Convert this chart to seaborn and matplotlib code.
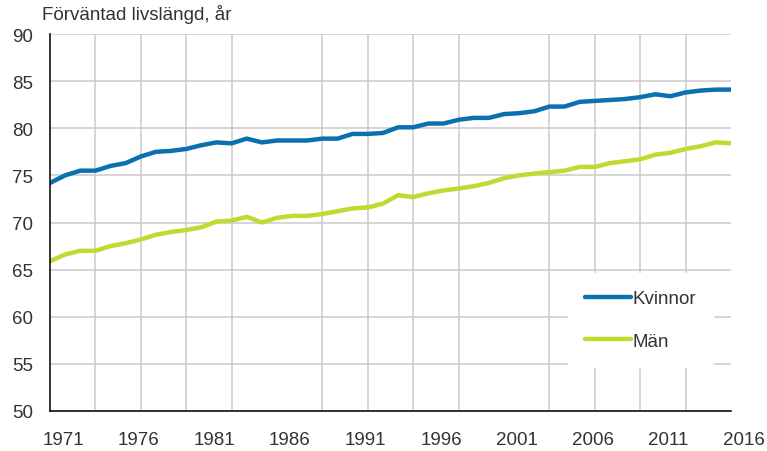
import matplotlib
matplotlib.use("Agg")
import matplotlib.pyplot as plt
import matplotlib.transforms as mtransforms
from matplotlib.lines import Line2D
import seaborn as sns
import pandas as pd
import numpy as np

years = list(range(1971, 2017))
kvinnor = [74.2, 75.0, 75.5, 75.5, 76.0, 76.3, 77.0, 77.5, 77.6, 77.8, 78.2,
           78.5, 78.4, 78.9, 78.5, 78.7, 78.7, 78.7, 78.9, 78.9, 79.4,
           79.4, 79.5, 80.1, 80.1, 80.5, 80.5, 80.9, 81.1, 81.1, 81.5,
           81.6, 81.8, 82.3, 82.3, 82.8, 82.9, 83.0, 83.1, 83.3, 83.6,
           83.4, 83.8, 84.0, 84.1, 84.1]
man = [65.9, 66.6, 67.0, 67.0, 67.5, 67.8, 68.2, 68.7, 69.0, 69.2, 69.5,
       70.1, 70.2, 70.6, 70.0, 70.5, 70.7, 70.7, 70.9, 71.2, 71.5,
       71.6, 72.0, 72.9, 72.7, 73.1, 73.4, 73.6, 73.85, 74.2, 74.7,
       75.0, 75.2, 75.35, 75.5, 75.9, 75.9, 76.3, 76.5, 76.7, 77.2,
       77.4, 77.8, 78.1, 78.5, 78.4]
series_names = ["Kvinnor", "Män"]
colors = ["#0a70b0", "#c4d831"]
title = "Förväntad livslängd, år"
y_ticks = [50, 55, 60, 65, 70, 75, 80, 85, 90]
x_label_years = list(range(1971, 2017, 5))
x_grid_years = list(range(1971, 2017, 3))

df = pd.DataFrame({
    "År": years * 2,
    "Värde": kvinnor + man,
    "Serie": [series_names[0]] * len(years) + [series_names[1]] * len(years),
})

sns.set_style("white")
plt.rcParams["font.family"] = ["Liberation Sans", "DejaVu Sans"]
text_color = "#333333"
fs = 13.5

fig = plt.figure(figsize=(7.67, 4.52), dpi=100)
ax = fig.add_axes([50 / 767, 1 - 412 / 452, 681 / 767, 377 / 452])

sns.lineplot(data=df, x="År", y="Värde", hue="Serie", palette=colors,
             linewidth=3.2, ax=ax, legend=False, zorder=3)

ax.set_xlim(1971, 2016)
ax.set_ylim(50, 90)
ax.set_xlabel("")
ax.set_ylabel("")

ax.set_yticks(y_ticks)
ax.set_yticklabels([str(v) for v in y_ticks])
ax.set_xticks(x_label_years)
ax.set_xticklabels([str(v) for v in x_label_years])
ax.set_xticks(x_grid_years, minor=True)

ax.grid(False)
ax.grid(which="major", axis="y", color="#cacaca", linewidth=1.1, zorder=0)
ax.grid(which="minor", axis="x", color="#cacaca", linewidth=1.1, zorder=0)
ax.set_axisbelow(True)

ax.tick_params(axis="y", which="both", length=0, pad=12, labelsize=fs, labelcolor=text_color)
ax.tick_params(axis="x", which="major", length=0, pad=14.5, labelsize=fs, labelcolor=text_color)
ax.tick_params(axis="x", which="minor", length=5, width=1.1, color="#222222", direction="out")

for s in ["top", "right"]:
    ax.spines[s].set_visible(False)
for s in ["left", "bottom"]:
    ax.spines[s].set_color("#111111")
    ax.spines[s].set_linewidth(1.2)
    ax.spines[s].set_zorder(4)

offset = mtransforms.ScaledTranslation(13 / 100, 0, fig.dpi_scale_trans)
for lbl in ax.get_xticklabels():
    lbl.set_transform(lbl.get_transform() + offset)

handles = [Line2D([0], [0], color=c, linewidth=3.2, solid_capstyle="round") for c in colors]
leg = ax.legend(handles, series_names, loc="lower right",
                bbox_to_anchor=(0.974, 0.118), borderaxespad=0,
                frameon=True, fancybox=False, framealpha=1.0,
                facecolor="white", edgecolor="white",
                fontsize=fs, handlelength=2.45, handletextpad=0.1,
                labelspacing=1.35, borderpad=0.9, labelcolor=text_color)
leg.set_zorder(5)

fig.text(42 / 767, 1 - 15 / 452, title, fontsize=13.5, color=text_color,
         ha="left", va="center")

fig.savefig("out.png", dpi=100)
